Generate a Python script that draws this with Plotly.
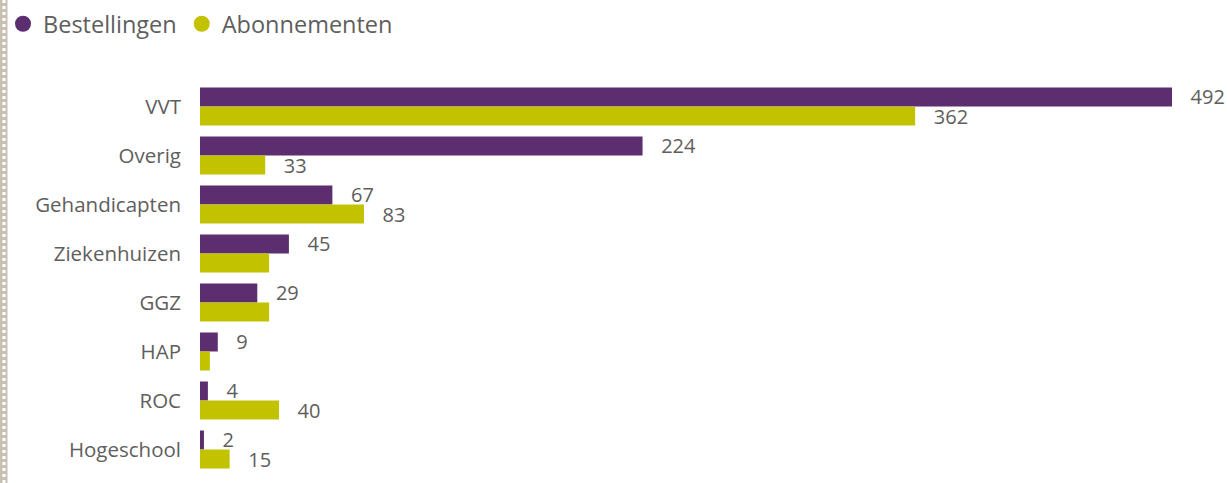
import plotly.graph_objects as go

categories = ["VVT", "Overig", "Gehandicapten", "Ziekenhuizen", "GGZ", "HAP", "ROC", "Hogeschool"]
bestellingen = [492, 224, 67, 45, 29, 9, 4, 2]
abonnementen = [362, 33, 83, 35, 35, 5, 40, 15]
# which data labels are visible in the original (overlapping ones hidden)
show_best = [True, True, True, True, True, True, True, True]
show_abon = [True, True, True, False, False, False, True, True]

PURPLE = "#5c2d6f"
YELLOW = "#c3c200"
TEXT = "#605e5c"
FONT = "Open Sans"

W, H = 1227, 483
ML, MR, MT, MB = 200, 47, 82, 9
PW = W - ML - MR
PH = H - MT - MB
PX_PER_UNIT = 972 / 492
XMAX = PW / PX_PER_UNIT

def labels(vals, flags):
    return ["   " + str(v) if f else "" for v, f in zip(vals, flags)]

fig = go.Figure()
fig.add_trace(go.Bar(
    y=categories, x=bestellingen, orientation="h", name="Bestellingen",
    marker=dict(color=PURPLE, line=dict(width=0)),
    text=labels(bestellingen, show_best), textposition="outside",
    textfont=dict(family=FONT, size=20, color=TEXT),
    constraintext="none", cliponaxis=False, showlegend=False, hoverinfo="x+y",
))
fig.add_trace(go.Bar(
    y=categories, x=abonnementen, orientation="h", name="Abonnementen",
    marker=dict(color=YELLOW, line=dict(width=0)),
    text=labels(abonnementen, show_abon), textposition="outside",
    textfont=dict(family=FONT, size=20, color=TEXT),
    constraintext="none", cliponaxis=False, showlegend=False, hoverinfo="x+y",
))
# legend entries with circle symbols
for nm, col in [("Bestellingen", PURPLE), ("Abonnementen", YELLOW)]:
    fig.add_trace(go.Scatter(
        x=[None], y=[None], mode="markers", name=nm,
        marker=dict(color=col, size=17, symbol="circle"),
    ))

def px_to_paper_x(px):
    return (px - ML) / PW

def px_to_paper_y(py):
    return 1 - (py - MT) / PH

shapes = [
    dict(type="rect", xref="paper", yref="paper",
         x0=px_to_paper_x(0), x1=px_to_paper_x(7.5),
         y0=px_to_paper_y(H), y1=px_to_paper_y(0),
         fillcolor="#c9c0b4", line=dict(width=0), layer="below"),
    dict(type="line", xref="paper", yref="paper",
         x0=px_to_paper_x(4), x1=px_to_paper_x(4),
         y0=px_to_paper_y(H), y1=px_to_paper_y(0),
         line=dict(color="white", width=3, dash="dot")),
]

fig.update_layout(
    width=W, height=H,
    margin=dict(l=ML, r=MR, t=MT, b=MB, pad=0, autoexpand=False),
    paper_bgcolor="white", plot_bgcolor="white",
    barmode="group", bargap=0.224, bargroupgap=0,
    font=dict(family=FONT, size=20, color=TEXT),
    xaxis=dict(range=[0, XMAX], visible=False, showgrid=False, zeroline=False, fixedrange=True),
    yaxis=dict(type="category", categoryorder="array", categoryarray=categories,
               range=[len(categories) - 0.5, -0.5], showgrid=False, zeroline=False,
               showline=False, ticks="", ticklabelstandoff=18, automargin=False,
               tickfont=dict(family=FONT, size=20.5, color=TEXT), fixedrange=True),
    legend=dict(orientation="h", x=px_to_paper_x(3), xanchor="left",
                y=px_to_paper_y(2), yanchor="top",
                font=dict(family=FONT, size=23.5, color=TEXT),
                itemwidth=30, tracegroupgap=0, bgcolor="rgba(0,0,0,0)"),
    shapes=shapes,
    showlegend=True,
)

fig.write_html(
    "out.html",
    config={"displayModeBar": False},
    post_script="document.body.style.margin='0';document.body.style.padding='0';"
                "document.documentElement.style.overflow='hidden';",
)
